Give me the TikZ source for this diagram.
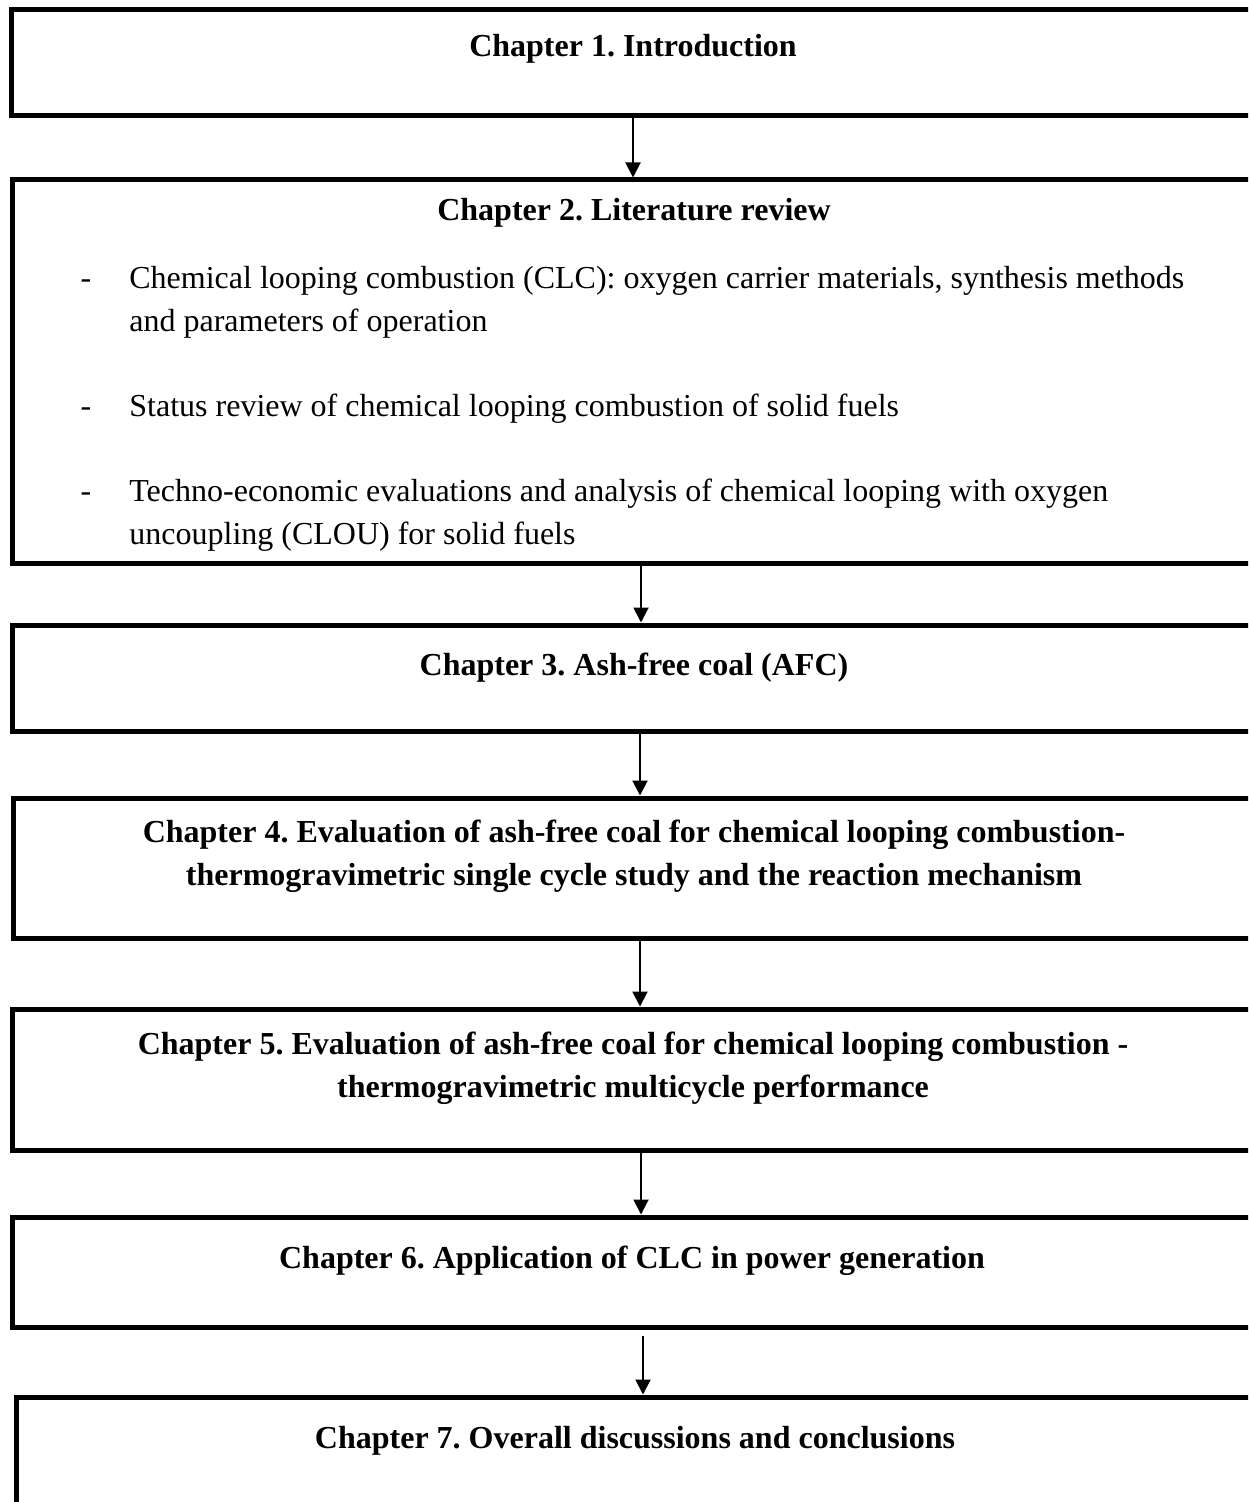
\documentclass[tikz,border=0pt]{standalone}
\usepackage{fontspec}
\setmainfont{Liberation Serif}
\usetikzlibrary{fit,arrows.meta}
\newcommand{\chapfont}{\fontsize{16}{21.5}\selectfont\frenchspacing}

\tikzset{
  chapbox/.style={rectangle, draw, line width=2.5pt, inner sep=0pt},
  title/.style={font=\chapfont\bfseries, align=center, anchor=base, inner sep=0pt},
  item/.style={font=\chapfont, align=left, anchor=base west, inner sep=0pt},
  hyph/.style={font=\chapfont, anchor=base, inner sep=0pt},
  flow/.style={line width=1pt, -{Triangle[length=7.5pt,width=7.5pt]}}
}

\begin{document}
\begin{tikzpicture}[x=0.5pt, y=-0.5pt]
            \clip (0,0) rectangle (1248,1502);

            % Define nodes
            \node[chapbox, fit={(11,10) (1257,116)}]   (c1) {};
            \node[chapbox, fit={(12,180) (1257,563)}]  (c2) {};
            \node[chapbox, fit={(12,625) (1257,731)}]  (c3) {};
            \node[chapbox, fit={(13,798) (1257,938)}]  (c4) {};
            \node[chapbox, fit={(12,1009) (1257,1150)}] (c5) {};
            \node[chapbox, fit={(12,1217) (1257,1327)}] (c6) {};
            \node[chapbox, fit={(16,1397) (1257,1540)}] (c7) {};

            % (multi-line nodes sit on their last baseline)
            \node[title] (t1) at (633,57)  {Chapter 1. Introduction};
            \node[title] (t2) at (634,221) {Chapter 2. Literature review};
            \node[title] (t3) at (634,675) {Chapter 3. Ash-free coal (AFC)};
            \node[title] (t4) at (634,885) {Chapter 4. Evaluation of ash-free coal for chemical looping combustion-\\
              thermogravimetric single cycle study and the reaction mechanism};
            \node[title] (t5) at (633,1097) {Chapter 5. Evaluation of ash-free coal for chemical looping combustion -\\
              thermogravimetric multicycle performance};
            \node[title] (t6) at (632,1268) {Chapter 6. Application of CLC in power generation};
            \node[title] (t7) at (635,1448) {Chapter 7. Overall discussions and conclusions};

            % Literature items
            \node[hyph] (h1) at (86,289) {-};
            \node[hyph] (h2) at (86,416) {-};
            \node[hyph] (h3) at (86,501) {-};
            \node[item] (i1) at (129,332) {Chemical looping combustion (CLC): oxygen carrier materials, synthesis methods\\
              and parameters of operation};
            \node[item] (i2) at (129,416) {Status review of chemical looping combustion of solid fuels};
            \node[item] (i3) at (129,544) {Techno-economic evaluations and analysis of chemical looping with oxygen\\
              uncoupling (CLOU) for solid fuels};

            % Connect the nodes
            \draw[flow] (c1.south -| 633,0) -- (c2.north -| 633,0);
            \draw[flow] (c2.south -| 641,0) -- (c3.north -| 641,0);
            \draw[flow] (c3.south -| 640,0) -- (c4.north -| 640,0);
            \draw[flow] (c4.south -| 640,0) -- (c5.north -| 640,0);
            \draw[flow] (c5.south -| 641,0) -- (c6.north -| 641,0);
            \draw[flow] ([yshift=-3pt]c6.south -| 643,0) -- (c7.north -| 643,0);
\end{tikzpicture}
\end{document}
